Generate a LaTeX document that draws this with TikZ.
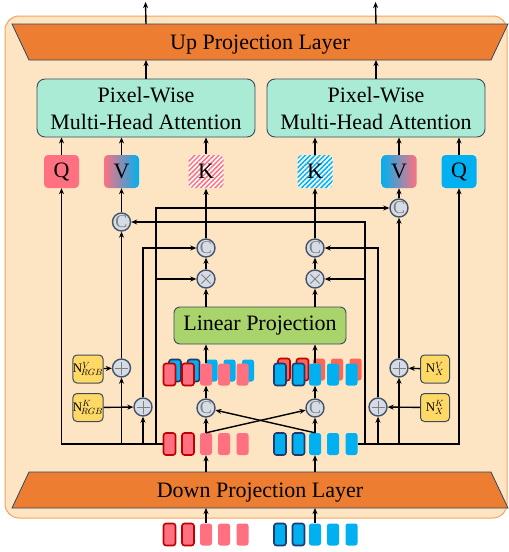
\documentclass[tikz,border=0pt]{standalone}
\usepackage{fontspec}
\setmainfont{Liberation Serif}
\usetikzlibrary{arrows.meta,patterns.meta,calc}
\definecolor{bgfill}{HTML}{FDE5C3}
\definecolor{bgdraw}{HTML}{F5A55A}
\definecolor{upfill}{HTML}{ED7D31}
\definecolor{trapdraw}{HTML}{2E4A6B}
\definecolor{attfill}{HTML}{AAEBD5}
\definecolor{attdraw}{HTML}{3B4B5C}
\definecolor{linfill}{HTML}{A9D46C}
\definecolor{nfill}{HTML}{FFD966}
\definecolor{qpink}{HTML}{FF7080}
\definecolor{qblue}{HTML}{00B0F0}
\definecolor{redb}{HTML}{C00000}
\definecolor{navy}{HTML}{1F3A6E}
\definecolor{salmon}{HTML}{FF6655}
\definecolor{opfill}{HTML}{D6DCE5}
\definecolor{opdraw}{HTML}{44546A}
\definecolor{catgray}{HTML}{808080}
\tikzset{
  arr/.style={line width=1.4pt,-{Stealth[length=6pt,width=5pt]}},
  trap/.style={fill=upfill,draw=trapdraw,line width=0.8pt},
  bigtext/.style={font=\fontsize{22}{27}\selectfont,inner sep=0},
  att/.style={draw=attdraw,fill=attfill,rounded corners=8pt,minimum width=218pt,minimum height=58pt,align=center,font=\fontsize{22}{27}\selectfont,line width=0.9pt,inner sep=0},
  linbox/.style={draw=attdraw,fill=linfill,rounded corners=6pt,minimum width=172pt,minimum height=37pt,font=\fontsize{22}{27}\selectfont,line width=0.9pt,inner sep=0},
  qkv/.style={minimum width=35pt,minimum height=33pt,rounded corners=4pt,inner sep=0,font=\fontsize{22}{22}\selectfont},
  kpat/.style={preaction={fill=white},pattern={Lines[angle=45,distance=3.4pt,line width=1.5pt]},pattern color=#1},
  op/.style={circle,draw=opdraw,fill=opfill,line width=1.4pt,minimum size=18pt,inner sep=0},
  cat/.style={op,font=\fontsize{18}{18}\selectfont,text=catgray},
  add/.style={op,path picture={
     \draw[catgray,line width=1pt] ([xshift=-6.5pt]path picture bounding box.center) -- ([xshift=6.5pt]path picture bounding box.center);
     \draw[catgray,line width=1pt] ([yshift=-6.5pt]path picture bounding box.center) -- ([yshift=6.5pt]path picture bounding box.center);}},
  mul/.style={op,path picture={
     \draw[catgray,line width=1pt] ([xshift=-4.6pt,yshift=-4.6pt]path picture bounding box.center) -- ([xshift=4.6pt,yshift=4.6pt]path picture bounding box.center);
     \draw[catgray,line width=1pt] ([xshift=-4.6pt,yshift=4.6pt]path picture bounding box.center) -- ([xshift=4.6pt,yshift=-4.6pt]path picture bounding box.center);}},
  nbox/.style={draw=attdraw,fill=nfill,rounded corners=4pt,minimum width=29pt,minimum height=28pt,inner sep=0,line width=1pt,font=\fontsize{13}{13}\selectfont},
  tok/.style={minimum width=12pt,minimum height=22pt,rounded corners=2.5pt,inner sep=0},
  tp/.style={tok,fill=qpink},
  tpr/.style={tok,fill=qpink,draw=redb,line width=1.6pt},
  tb/.style={tok,fill=qblue},
  tbn/.style={tok,fill=qblue,draw=navy,line width=1.6pt},
  ts/.style={tok,fill=salmon},
  tsr/.style={tok,fill=salmon,draw=redb,line width=1.6pt},
}
\begin{document}
\begin{tikzpicture}[x=1pt,y=-1pt]
\useasboundingbox (0,0) rectangle (509,552);
% background
\draw[bgdraw,fill=bgfill,line width=1pt,rounded corners=14pt] (5,16) rectangle (507,518);
% up projection
\draw[trap] (12,24) -- (508,24) -- (491,60) -- (29,60) -- cycle;
\node[bigtext] (up) at (260,45) {Up Projection Layer};
\coordinate (uptop) at (0,24);
\coordinate (upbot) at (0,60);
\coordinate (outL) at (145.5,2);
\coordinate (outR) at (375.5,2);
% down projection
\draw[trap] (29,472) -- (491,472) -- (508,508) -- (12,508) -- cycle;
\node[bigtext] (down) at (260,492.5) {Down Projection Layer};
\coordinate (dntop) at (0,472);
\coordinate (dnbot) at (0,508);
% attention
\node[att] (attL) at (146,108) {Pixel-Wise\\Multi-Head Attention};
\node[att] (attR) at (376,108) {Pixel-Wise\\Multi-Head Attention};
% Q V K
\node[qkv,fill=qpink] (qL) at (61.5,171.5) {Q};
\node[qkv,left color=qpink,right color=qblue] (vL) at (121.5,171.5) {V};
\node[qkv,kpat=qpink] (kL) at (206,171.5) {K};
\node[qkv,kpat=qblue] (kR) at (315,171.5) {K};
\node[qkv,left color=qblue,right color=qpink] (vR) at (399,171.5) {V};
\node[qkv,fill=qblue] (qR) at (459,171.5) {Q};
% linear projection
\node[linbox] (lin) at (260,325.5) {Linear Projection};
% operators
\node[cat] (cvL) at (121.5,222) {C};
\node[cat] (cvR) at (399,208) {C};
\node[cat] (ckL) at (206,248) {C};
\node[cat] (ckR) at (315,248) {C};
\node[mul] (mL) at (206,279) {};
\node[mul] (mR) at (315,279) {};
\node[cat] (cbL) at (206,408) {C};
\node[cat] (cbR) at (315,408) {C};
\node[add] (avL) at (121.5,368) {};
\node[add] (akL) at (143,407) {};
\node[add] (avR) at (399,368) {};
\node[add] (akR) at (378,407) {};
% noise boxes
\node[nbox] (nvL) at (88,369) {$\mathrm{N}^{V}_{\!RGB}$};
\node[nbox] (nkL) at (88,407.5) {$\mathrm{N}^{K}_{\!RGB}$};
\node[nbox] (nvR) at (435,369) {$\mathrm{N}^{V}_{X}$};
\node[nbox] (nkR) at (435,407.5) {$\mathrm{N}^{K}_{X}$};
% tokens: input row
\foreach \x/\s [count=\i] in {169.5/tpr,188/tpr,206/tp,224/tp,242.5/tp}
  {\node[\s] (bl\i) at (\x,534.5) {};}
\foreach \x/\s [count=\i] in {280/tbn,298.5/tbn,315/tb,333/tb,351.5/tb}
  {\node[\s] (br\i) at (\x,534.5) {};}
% tokens: after down projection
\foreach \x/\s [count=\i] in {169.5/tpr,188/tpr,206/tp,224/tp,242.5/tp}
  {\node[\s] (tl\i) at (\x,444) {};}
\foreach \x/\s [count=\i] in {280/tbn,298.5/tbn,315/tb,333/tb,351.5/tb}
  {\node[\s] (tr\i) at (\x,444) {};}
% tokens: concatenated (behind)
\foreach \x/\s [count=\i] in {169.5/tbn,188/tbn,206/tb,224/tb,242.5/tb}
  {\node[\s] (hl\i) at (\x+5.5,370.5) {};}
\foreach \x/\s [count=\i] in {280/tsr,298.5/tsr,315/ts,333/ts,351.5/ts}
  {\node[\s] (hr\i) at (\x+4,369.5) {};}
% tokens: concatenated (front)
\foreach \x/\s [count=\i] in {169.5/tpr,188/tpr,206/tp,224/tp,242.5/tp}
  {\node[\s] (ml\i) at (\x,374.5) {};}
\foreach \x/\s [count=\i] in {280/tbn,298.5/tbn,315/tb,333/tb,351.5/tb}
  {\node[\s] (mr\i) at (\x,374.5) {};}
% main vertical flow
\draw[arr] (bl3.north) -- (bl3.north |- dnbot);
\draw[arr] (br3.north) -- (br3.north |- dnbot);
\draw[arr] (tl3 |- dntop) -- (tl3.south);
\draw[arr] (tr3 |- dntop) -- (tr3.south);
\draw[arr] (tl3.north) -- (cbL);
\draw[arr] (tr3.north) -- (cbR);
\draw[arr] (tl3.north) -- (cbR);
\draw[arr] (tr3.north) -- (cbL);
\draw[arr] (cbL) -- (ml3.south);
\draw[arr] (cbR) -- (mr3.south);
\draw[arr] (ml3.north) -- (ml3.north |- lin.south);
\draw[arr] (mr3.north) -- (mr3.north |- lin.south);
\draw[arr] (mL |- lin.north) -- (mL);
\draw[arr] (mR |- lin.north) -- (mR);
\draw[arr] (mL) -- (ckL);
\draw[arr] (mR) -- (ckR);
\draw[arr] (ckL) -- (kL);
\draw[arr] (ckR) -- (kR);
\draw[arr] (kL) -- (kL |- attL.south);
\draw[arr] (kR) -- (kR |- attR.south);
\draw[arr] (vL) -- (vL |- attL.south);
\draw[arr] (vR) -- (vR |- attR.south);
\draw[arr] (qL) -- (qL |- attL.south);
\draw[arr] (qR) -- (qR |- attR.south);
\draw[arr] (attL.north) -- (attL.north |- upbot);
\draw[arr] (attR.north) -- (attR.north |- upbot);
\draw[arr] (attL.north |- uptop) -- (outL);
\draw[arr] (attR.north |- uptop) -- (outR);
% left side wires
\draw[arr] (tl1.west) -| (qL.south);
\draw[arr] (avL |- tl1.west) -- (avL);
\draw[arr] (avL) -- (cvL);
\draw[arr] (cvL) -- (vL);
\draw[arr] (akL |- tl1.west) -- (akL);
\draw[arr] (akL.north) |- (ckL.west);
\coordinate (bL) at (156,444);
\draw[arr] (bL) |- (cvR.west);
\draw[arr] (bL |- mL) -- (mL.west);
\draw[arr] (nvL) -- (avL);
\draw[arr] (nkL) -- (akL);
% right side wires
\draw[arr] (tr5.east) -| (qR.south);
\draw[arr] (avR |- tr5.east) -- (avR);
\draw[arr] (avR) -- (cvR);
\draw[arr] (cvR) -- (vR);
\draw[arr] (akR |- tr5.east) -- (akR);
\draw[arr] (akR.north) |- (ckR.east);
\coordinate (bR) at (365,444);
\draw[arr] (bR) |- (cvL.east);
\draw[arr] (bR |- mR) -- (mR.east);
\draw[arr] (nvR) -- (avR);
\draw[arr] (nkR) -- (akR);
\end{tikzpicture}
\end{document}
